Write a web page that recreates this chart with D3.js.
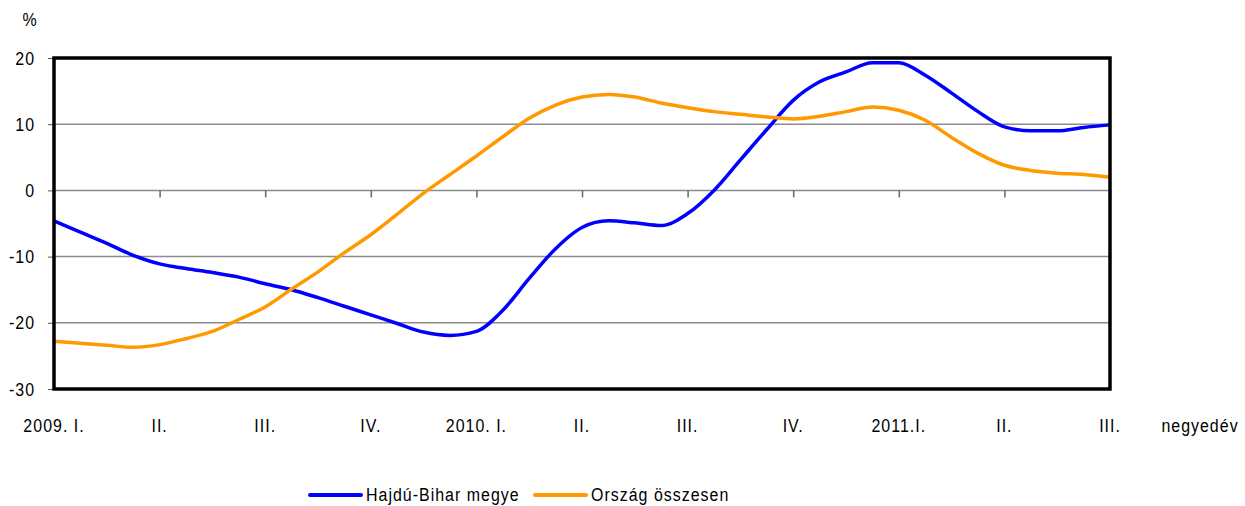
<!DOCTYPE html>
<html>
<head>
<meta charset="utf-8">
<script src="https://cdn.jsdelivr.net/npm/d3@7"></script>
<style>
  body { margin: 0; background: #fff; }
  svg text { font-family: "Liberation Sans", Arial, sans-serif; font-size: 19px; fill: #000; letter-spacing: 1.2px; }
</style>
</head>
<body>
<svg id="chart" width="1245" height="506"></svg>
<script>
// quarter labels on the x axis
var categories = ["2009. I.", "II.", "III.", "IV.", "2010. I.", "II.", "III.", "IV.", "2011.I.", "II.", "III."];
var yTicks = [-30, -20, -10, 0, 10, 20];
var seriesNames = ["Hajdú-Bihar megye", "Ország összesen"];

// values read every quarter of a category step (41 points)
var hajduBihar = [-4.6, -6.3, -8.0, -9.8, -11.1, -11.8, -12.4, -13.1, -14.1, -15.0,
  -16.2, -17.5, -18.8, -20.1, -21.4, -21.9, -21.3, -18.1, -13.3, -8.8,
  -5.6, -4.6, -4.9, -5.3, -3.5, 0.0, 4.6, 9.2, 13.6, 16.4,
  17.9, 19.3, 19.3, 17.4, 14.7, 11.9, 9.6, 9.0, 9.0, 9.5, 9.9];
var orszag = [-22.8, -23.1, -23.4, -23.7, -23.3, -22.4, -21.3, -19.5, -17.6, -14.9,
  -12.3, -9.4, -6.7, -3.6, -0.4, 2.4, 5.2, 8.1, 10.9, 12.9,
  14.1, 14.5, 14.1, 13.2, 12.5, 11.9, 11.5, 11.1, 10.8, 11.2,
  11.9, 12.6, 12.1, 10.6, 8.0, 5.6, 3.8, 3.0, 2.6, 2.4, 2.0];

var colors = ["#0000ff", "#ff9900"];
var narrow = 0.84; // squeeze text like Arial Narrow

var svg = d3.select("#chart");
var plotLeft = 54, plotRight = 1110, plotTop = 58, plotBottom = 389;

var x = d3.scaleLinear().domain([0, categories.length - 1]).range([plotLeft, plotRight]);
var y = d3.scaleLinear().domain([-30, 20]).range([plotBottom, plotTop]);

function label(g, px, py, anchor, txt) {
  return g.append("text")
    .attr("transform", "translate(" + px + "," + py + ") scale(" + narrow + ",1)")
    .attr("text-anchor", anchor)
    .text(txt);
}

//gridlines
svg.append("g").selectAll("line").data(yTicks.filter(function (d) { return d > -30 && d < 20; }))
  .enter().append("line")
  .attr("x1", plotLeft).attr("x2", plotRight)
  .attr("y1", function (d) { return y(d); }).attr("y2", function (d) { return y(d); })
  .attr("stroke", "#8c8c8c").attr("stroke-width", 1.5);

//y axis
var yAxis = d3.axisLeft(y).tickValues(yTicks).tickSize(6).tickPadding(15)
  .tickFormat(function (d) { return String(d); });
var gy = svg.append("g").attr("transform", "translate(" + plotLeft + ",0)").call(yAxis);
gy.select(".domain").remove();
gy.selectAll(".tick line").attr("stroke", "#555").attr("stroke-width", 1);
gy.selectAll("text")
  .attr("font-family", null).attr("font-size", null)
  .attr("x", -19 / narrow)
  .attr("transform", "scale(" + narrow + ",1)");

label(svg, 30, 26, "middle", "%");

//category ticks on the zero line
var xAxis = d3.axisBottom(x).tickValues(d3.range(1, categories.length)).tickSize(7).tickFormat("");
var gx = svg.append("g").attr("transform", "translate(0," + y(0) + ")").call(xAxis);
gx.select(".domain").remove();
gx.selectAll(".tick line").attr("stroke", "#666").attr("stroke-width", 1.5);

//category labels below the plot
var gl = svg.append("g");
categories.forEach(function (c, i) { label(gl, x(i), 432, "middle", c); });
label(svg, 1200, 432, "middle", "negyedév");

//lines
var line = d3.line()
  .x(function (d, i) { return x(i / 4); })
  .y(function (d) { return y(d); })
  .curve(d3.curveMonotoneX);

[hajduBihar, orszag].forEach(function (s, i) {
  svg.append("path").datum(s)
    .attr("d", line)
    .attr("fill", "none")
    .attr("stroke", colors[i])
    .attr("stroke-width", 3.5)
    .attr("stroke-linejoin", "round");
});

//plot frame
svg.append("rect")
  .attr("x", plotLeft).attr("y", plotTop)
  .attr("width", plotRight - plotLeft).attr("height", plotBottom - plotTop)
  .attr("fill", "none").attr("stroke", "#000").attr("stroke-width", 3.5);

//legend
var legendX = [310, 535];
seriesNames.forEach(function (name, i) {
  var g = svg.append("g").attr("transform", "translate(" + legendX[i] + ",495)");
  g.append("line").attr("x1", 0).attr("x2", 51).attr("y1", 0).attr("y2", 0)
    .attr("stroke", colors[i]).attr("stroke-width", 4).attr("stroke-linecap", "round");
  label(g, 56, 6, "start", name);
});
</script>
</body>
</html>
